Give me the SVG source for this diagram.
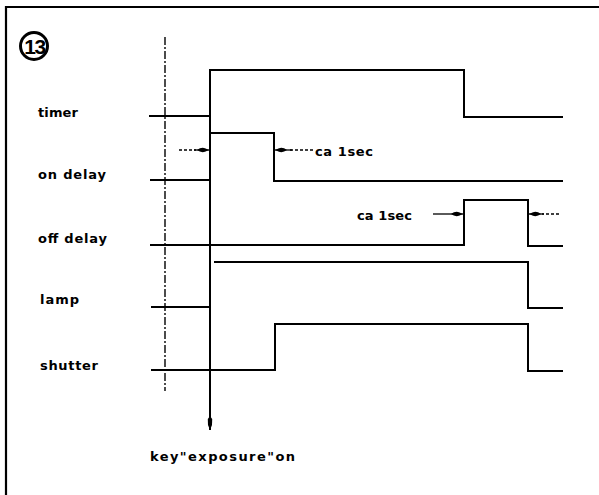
<svg xmlns="http://www.w3.org/2000/svg" width="599" height="495" viewBox="0 0 599 495">
  <defs>
    <style>
      .lbl { font-family: "DejaVu Sans", "Liberation Sans", sans-serif; font-weight: bold; font-size: 13px; fill: #000; }
      .sig { fill: none; stroke: #000; stroke-width: 2; stroke-linejoin: miter; }
      .frame { fill: none; stroke: #000; stroke-width: 2.2; }
      .guide { fill: none; stroke: #000; stroke-width: 1.4; stroke-dasharray: 8 2 2 2; }
      .key { fill: none; stroke: #000; stroke-width: 2; }
      .dim { fill: none; stroke: #000; stroke-width: 1.3; }
      .dimd { fill: none; stroke: #000; stroke-width: 1.3; stroke-dasharray: 3 2; }
    </style>
    <marker id="ah" viewBox="0 0 12 6" refX="12" refY="3" markerWidth="12" markerHeight="6" markerUnits="userSpaceOnUse" orient="auto">
      <path d="M0,3 Q4,0 8,1.2 L12,3 L8,4.8 Q4,6 0,3 Z" fill="#000"/>
    </marker>
    <marker id="ahv" viewBox="0 0 14 6" refX="14" refY="3" markerWidth="14" markerHeight="6" markerUnits="userSpaceOnUse" orient="auto">
      <path d="M0,3 L3,0.8 L9,1 L14,3 L9,5 L3,5.2 Z" fill="#000"/>
    </marker>
  </defs>
  <rect width="599" height="495" fill="#fff"/>

  <g id="frame">
    <path class="frame" d="M6,495 V7 H599"/>
  </g>

  <g id="badge">
    <circle cx="34" cy="46" r="13.5" fill="none" stroke="#000" stroke-width="3"/>
    <text x="34.5" y="54" text-anchor="middle" font-family="'Liberation Sans', Arial, sans-serif" font-weight="bold" font-size="21" letter-spacing="-1.5">13</text>
  </g>

  <g id="guide">
    <line class="guide" x1="165" y1="37" x2="165" y2="391"/>
  </g>

  <g id="timer">
    <text class="lbl" x="38" y="117" textLength="40" lengthAdjust="spacing">timer</text>
    <path class="sig" d="M149,116 H210 V70 H464 V117 H563"/>
  </g>

  <g id="on-delay">
    <text class="lbl" x="38" y="179" textLength="68" lengthAdjust="spacing">on delay</text>
    <path class="sig" d="M150,180 H210 M211,133 H274 V181 H563"/>
    <text class="lbl" x="315" y="156" textLength="58" lengthAdjust="spacing">ca 1sec</text>
  </g>

  <g id="off-delay">
    <text class="lbl" x="38" y="243" textLength="69" lengthAdjust="spacing">off delay</text>
    <path class="sig" d="M150,245 H464 V200 H528 V246 H563"/>
    <text class="lbl" x="357" y="220" textLength="55" lengthAdjust="spacing">ca 1sec</text>
  </g>

  <g id="lamp">
    <text class="lbl" x="40" y="304" textLength="39" lengthAdjust="spacing">lamp</text>
    <path class="sig" d="M151,307 H210 M214,262 H528 V308 H563"/>
  </g>

  <g id="shutter">
    <text class="lbl" x="40" y="370" textLength="58" lengthAdjust="spacing">shutter</text>
    <path class="sig" d="M151,370 H275 V324 H528 V371 H563"/>
  </g>

  <g id="key">
    <text class="lbl" x="150" y="461" textLength="145" lengthAdjust="spacing">key"exposure"on</text>
  </g>

  <g id="connectors">
    <line class="key" x1="210" y1="69" x2="210" y2="430" marker-end="url(#ahv)"/>
    <line class="dimd" x1="179" y1="150" x2="196" y2="150"/>
    <line class="dim" x1="194" y1="150" x2="209" y2="150" marker-end="url(#ah)"/>
    <line class="dimd" x1="313" y1="150" x2="290" y2="150"/>
    <line class="dim" x1="292" y1="150" x2="275" y2="150" marker-end="url(#ah)"/>
    <line class="dim" x1="433" y1="214" x2="463" y2="214" marker-end="url(#ah)"/>
    <line class="dimd" x1="559" y1="214" x2="542" y2="214"/>
    <line class="dim" x1="544" y1="214" x2="529" y2="214" marker-end="url(#ah)"/>
  </g>
</svg>
